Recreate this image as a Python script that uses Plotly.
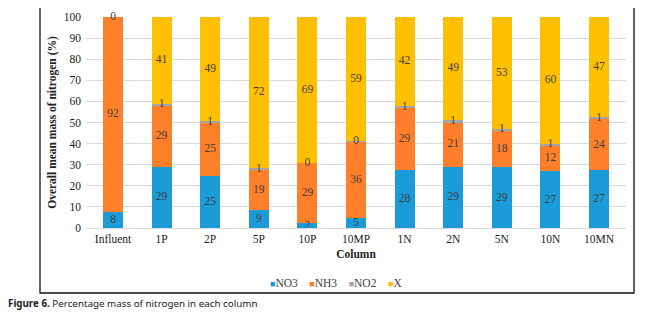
import plotly.graph_objects as go

categories = ["Influent", "1P", "2P", "5P", "10P", "10MP", "1N", "2N", "5N", "10N", "10MN"]
no3 = [7.8, 28.9, 24.6, 8.6, 2.2, 4.6, 27.7, 29.0, 28.7, 26.8, 27.3]
nh3 = [92.2, 29.2, 25.4, 19.0, 28.7, 36.3, 29.3, 21.2, 17.6, 12.4, 24.4]
no2 = [0.0, 0.8, 0.8, 0.8, 0.1, 0.2, 0.8, 0.9, 0.7, 0.8, 1.0]
x_rest = [0.0, 41.1, 49.2, 71.6, 69.0, 58.9, 42.2, 48.9, 53.0, 60.0, 47.3]

series_names = ["NO3", "NH3", "NO2", "X"]
series_values = [no3, nh3, no2, x_rest]
colors = ["#1B9BD7", "#FF7F2A", "#A5A5A5", "#FFC000"]
y_ticks = [0, 10, 20, 30, 40, 50, 60, 70, 80, 90, 100]

SERIF = "Liberation Serif, Times New Roman, serif"
TXT = "#404040"

fig = go.Figure()
base = [0.0] * len(categories)
labels = {}
for name, vals, col in zip(series_names, series_values, colors):
    fig.add_trace(go.Bar(x=categories, y=vals, name=name, marker_color=col,
                         marker_line_width=0, showlegend=False))
    for i, v in enumerate(vals):
        key = (categories[i], round(base[i] + v / 2, 3))
        if key not in labels:  # identical zero labels at the same spot are drawn once
            labels[key] = str(int(round(v)))
        base[i] += v

label_x = [k[0] for k in labels]
label_y = [k[1] for k in labels]
label_t = list(labels.values())
fig.add_trace(go.Scatter(x=label_x, y=label_y, text=label_t, mode="text",
                         textfont=dict(family=SERIF, size=11.5, color=TXT),
                         showlegend=False, hoverinfo="skip", cliponaxis=False))

# page has an 8px body margin; work in reference pixel coordinates
OFF = 8
W, H = 655 - OFF, 313 - OFF
L, R, T, B = 86, 626, 17, 228  # plot area in reference px
pw, ph = R - L, B - T
def px(x): return (x - L) / pw
def py(y): return (B - y) / ph

fig.update_layout(
    width=W, height=H,
    margin=dict(l=L - OFF, r=655 - R, t=T - OFF, b=313 - B),
    barmode="stack", bargap=0.59,
    plot_bgcolor="white", paper_bgcolor="white",
    font=dict(family=SERIF, size=11, color=TXT),
    xaxis=dict(title=dict(text="<b>Column</b>", font=dict(family=SERIF, size=11.5, color="#222"), standoff=6),
               tickfont=dict(family=SERIF, size=11.5, color="#222"),
               showline=True, linecolor="#D9D9D9", linewidth=1, ticks="", fixedrange=True,
               automargin=False),
    yaxis=dict(title=dict(text="<b>Overall mean mass of nitrogen (%)</b>",
                          font=dict(family=SERIF, size=11.5, color="#222"), standoff=4),
               range=[0, 100], tickvals=y_ticks, ticktext=[str(t) for t in y_ticks],
               tickfont=dict(family=SERIF, size=11.5, color="#222"),
               showgrid=True, gridcolor="#D9D9D9", gridwidth=1, zeroline=False,
               ticks="", ticklabelstandoff=4, automargin=False),
    showlegend=False,
)

# outer chart border
fig.add_shape(type="rect", xref="paper", yref="paper",
              x0=px(40), x1=px(634), y0=py(293), y1=py(4),
              line=dict(color="#111", width=1.3), fillcolor="rgba(0,0,0,0)", layer="below")

# legend row
legend_html = "&nbsp;&nbsp;&nbsp;&nbsp;".join(
    f'<span style="color:{c}; font-size:9px">■</span>{n}' for n, c in zip(series_names, colors))
fig.add_annotation(xref="paper", yref="paper", x=px(336), y=py(283), text=legend_html,
                   showarrow=False, xanchor="center", yanchor="middle",
                   font=dict(family=SERIF, size=11.5, color=TXT))

# caption
fig.add_annotation(xref="paper", yref="paper", x=px(6), y=py(303),
                   text="<b>Figure 6.</b> Percentage mass of nitrogen in each column",
                   showarrow=False, xanchor="left", yanchor="middle",
                   font=dict(family="Noto Sans", size=9.8, color="#222"))

fig.write_html("out.html")
